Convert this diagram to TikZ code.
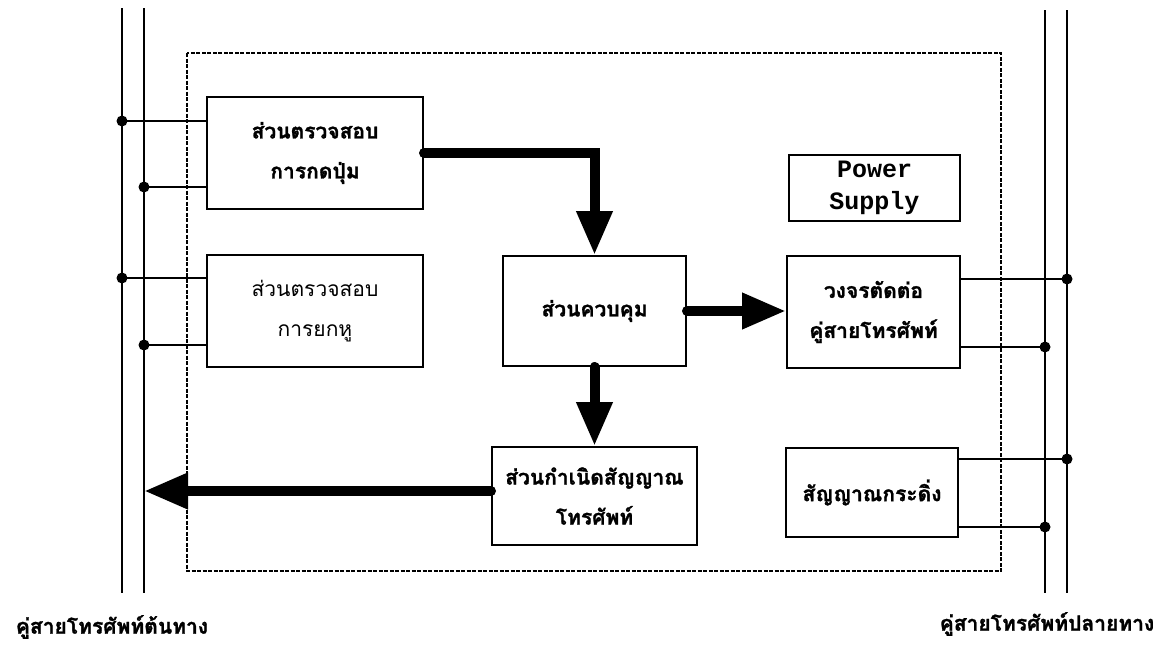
\documentclass[tikz,border=0pt]{standalone}
\usepackage{fontspec}
\newfontfamily\thaifont[Script=Thai, BoldFeatures={FakeBold=1.3}]{Loma}
\setmonofont{Liberation Mono}
\usetikzlibrary{arrows.meta}

\tikzset{
  block/.style={draw, line width=2pt, inner sep=0pt, align=center},
  thaibold/.style={font=\thaifont\bfseries\fontsize{21}{40}\selectfont},
  thaireg/.style={font=\thaifont\fontsize{21}{40}\selectfont},
  wire/.style={line width=2pt},
  rail/.style={line width=2.4pt},
  frame/.style={line width=1.4pt, dash pattern=on 4pt off 1.5pt},
  bigarrow/.style={line width=10pt, line cap=round,
    -{Triangle[length=44pt,width=34pt]}},
  joint/.style={circle, fill=black, inner sep=0pt, minimum size=11pt},
}

\begin{document}
\begin{tikzpicture}[x=1pt,y=-1pt]
  \useasboundingbox (0,0) rectangle (1171,648);

  % telephone line pairs, source side (left) and destination side (right)
  \coordinate (la top) at (122,8);   \coordinate (la bot) at (122,593);
  \coordinate (lb top) at (144,8);   \coordinate (lb bot) at (144,593);
  \coordinate (ra top) at (1045,10); \coordinate (ra bot) at (1045,593);
  \coordinate (rb top) at (1067,10); \coordinate (rb bot) at (1067,593);
  \draw[rail] (la top) -- (la bot);
  \draw[rail] (lb top) -- (lb bot);
  \draw[rail] (ra top) -- (ra bot);
  \draw[rail] (rb top) -- (rb bot);

  % device enclosure
  \coordinate (enc nw) at (187,53);
  \coordinate (enc se) at (1001,571);
  \draw[frame] (enc nw) rectangle (enc se);

  % functional blocks
  \node[block, thaibold, minimum width=216pt, minimum height=112pt]
    (keydet) at (315,153) {ส่วนตรวจสอบ\\การกดปุ่ม};
  \node[block, thaireg, minimum width=216pt, minimum height=112pt]
    (hookdet) at (315,311) {ส่วนตรวจสอบ\\การยกหู};
  \node[block, thaibold, minimum width=183pt, minimum height=110pt]
    (ctrl) at (594.5,311) {ส่วนควบคุม};
  \node[block, thaibold, minimum width=205pt, minimum height=98pt]
    (gen) at (594.5,496) {ส่วนกำเนิดสัญญาณ\\โทรศัพท์};
  \node[block, font=\ttfamily\bfseries\fontsize{25}{32}\selectfont,
    minimum width=171pt, minimum height=66pt]
    (psu) at (874.5,188) {Power\\Supply};
  \node[block, thaibold, minimum width=173pt, minimum height=112pt]
    (switch) at (873.5,312) {วงจรตัดต่อ\\คู่สายโทรศัพท์};
  \node[block, thaibold, minimum width=172pt, minimum height=89pt]
    (ring) at (872,492.5) {สัญญาณกระดิ่ง};

  % taps onto the line pairs
  \node[joint] (j1) at (122,121) {};
  \node[joint] (j2) at (144,187) {};
  \node[joint] (j3) at (122,278) {};
  \node[joint] (j4) at (144,345) {};
  \node[joint] (j5) at (1067,279) {};
  \node[joint] (j6) at (1045,347) {};
  \node[joint] (j7) at (1067,459) {};
  \node[joint] (j8) at (1045,527) {};
  \draw[wire] (j1.center) -- (j1 -| keydet.west);
  \draw[wire] (j2.center) -- (j2 -| keydet.west);
  \draw[wire] (j3.center) -- (j3 -| hookdet.west);
  \draw[wire] (j4.center) -- (j4 -| hookdet.west);
  \draw[wire] (j5.center) -- (j5 -| switch.east);
  \draw[wire] (j6.center) -- (j6 -| switch.east);
  \draw[wire] (j7.center) -- (j7 -| ring.east);
  \draw[wire] (j8.center) -- (j8 -| ring.east);

  % signal flow
  \coordinate (out tip) at (144,491);
  \draw[bigarrow] (keydet.east) -| (ctrl.north);
  \draw[bigarrow] (ctrl.south) -- (gen.north);
  \draw[bigarrow] (ctrl.east) -- (ctrl.east -| switch.west);
  \draw[bigarrow] (out tip -| gen.west) -- (out tip);

  % line pair captions
  \node[thaibold] (src) at (112,627) {คู่สายโทรศัพท์ต้นทาง};
  \node[thaibold] (dst) at (1047,624) {คู่สายโทรศัพท์ปลายทาง};
\end{tikzpicture}
\end{document}
